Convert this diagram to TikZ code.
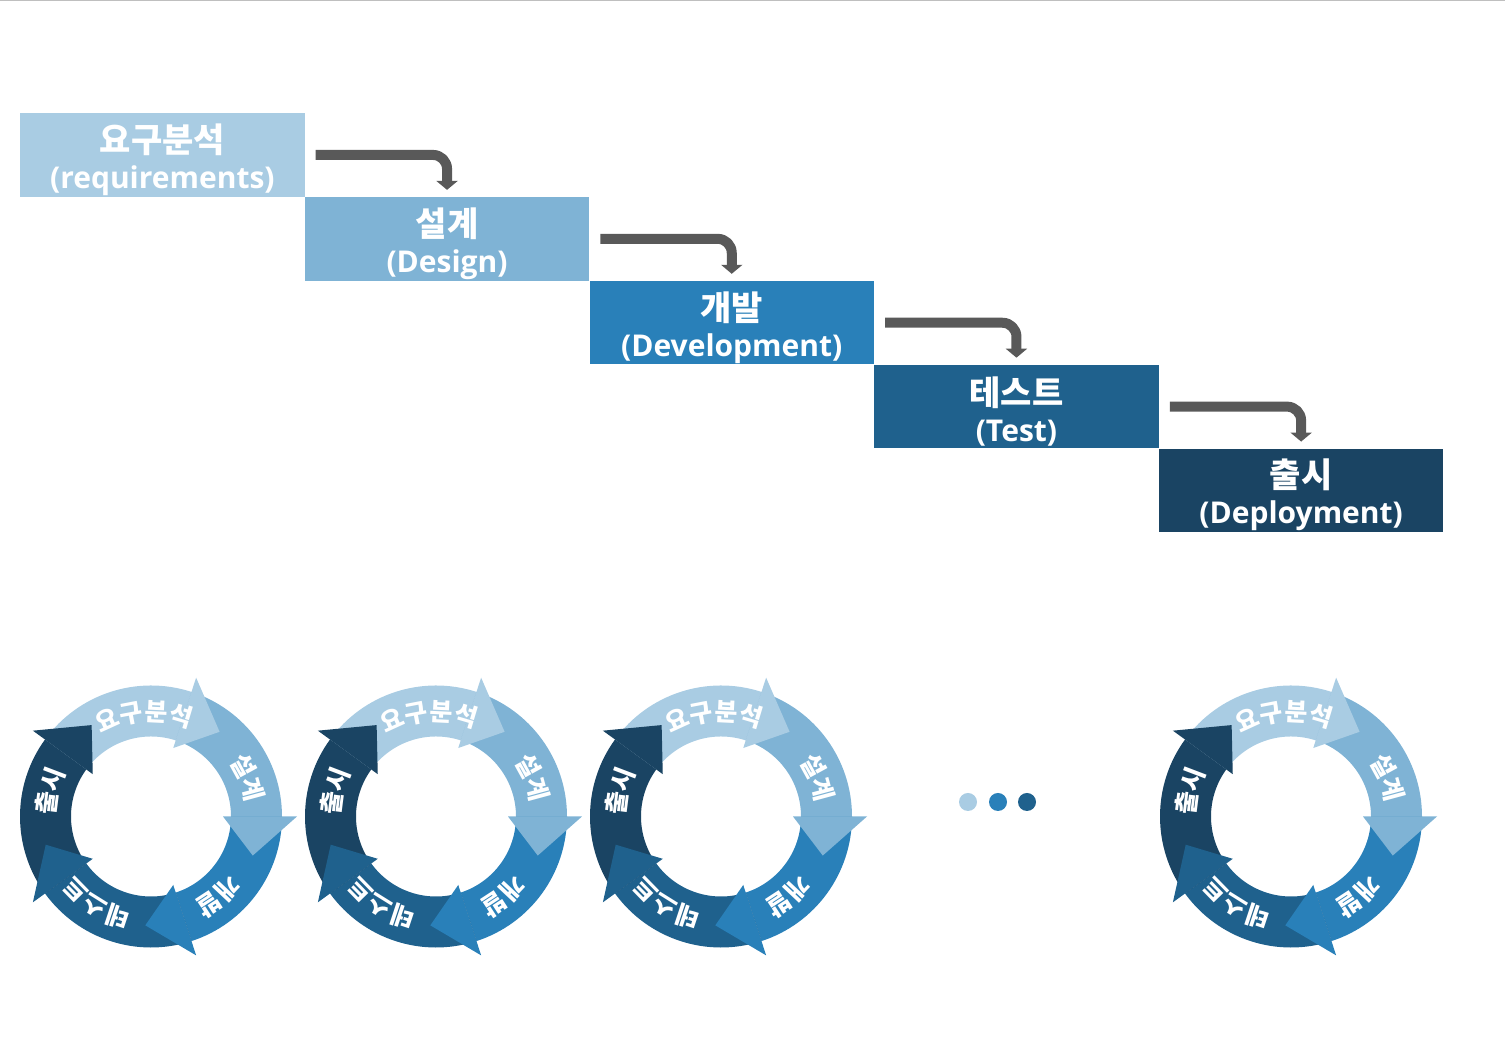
\documentclass[tikz,border=0pt]{standalone}
\usepackage{fontspec}
\setmainfont{Open Sans}
\newfontfamily\kr{Noto Sans CJK KR}
\usetikzlibrary{arrows.meta,positioning,decorations.text}
\definecolor{cReq}{HTML}{A9CCE3}
\definecolor{cDsg}{HTML}{7FB3D5}
\definecolor{cDev}{HTML}{2980B9}
\definecolor{cTst}{HTML}{1F618D}
\definecolor{cDep}{HTML}{1A4463}
\definecolor{cArr}{HTML}{595959}
\newcommand{\cyctext}{\kr\bfseries\fontsize{25}{25}\selectfont}
\newcommand{\krhead}[1]{{\kr\fontsize{34}{36}\selectfont\rule{0pt}{38pt}#1}}

\begin{document}
\begin{tikzpicture}[line join=round,x=1pt,y=1pt,
  stage/.style={minimum width=284.3pt,minimum height=83.5pt,inner sep=0pt,text=white,align=center,font=\bfseries\fontsize{30}{36}\selectfont},
  stair/.style={cArr,line width=10pt,rounded corners=14pt,-{Triangle[width=21pt,length=9pt]}},
  cyclabel/.style={decorate,decoration={text along path,text={|\cyctext|#1},text align=center,text color=white}}]

\useasboundingbox (0,0) rectangle (1505,1054);
\draw [line width=1.5pt,black!25] (0,1053.5) -- (1505,1053.5);
%% waterfall
\node [stage,fill=cReq,anchor=north west] (req) at (20,941) {\krhead{요구분석}\\(requirements)};
\node [stage,fill=cDsg,below right=0pt and 0pt of req] (dsg) {\krhead{설계}\\(Design)};
\node [stage,fill=cDev,below right=0pt and 0pt of dsg] (dev) {\krhead{개발}\\(Development)};
\node [stage,fill=cTst,below right=0pt and 0pt of dev] (tst) {\krhead{테스트}\\(Test)};
\node [stage,fill=cDep,below right=0pt and 0pt of tst] (dep) {\krhead{출시}\\(Deployment)};
%%
\draw [stair] ([xshift=11pt]req.east) -| ([yshift=7pt]dsg.north);
\draw [stair] ([xshift=11pt]dsg.east) -| ([yshift=7pt]dev.north);
\draw [stair] ([xshift=11pt]dev.east) -| ([yshift=7pt]tst.north);
\draw [stair] ([xshift=11pt]tst.east) -| ([yshift=7pt]dep.north);
%% cycles
\foreach \cx in {151,436,721,1291}{
\begin{scope}[shift={(\cx,237.5)}]
\foreach \b/\c in {72/cReq,0/cDsg,-72/cDev,-144/cTst,144/cDep}
  \fill [\c] (\b+72:131) arc [start angle=\b+72,end angle=\b,radius=131] -- (\b:80) arc [start angle=\b,end angle=\b+72,radius=80] -- cycle;
\foreach \b/\c in {72/cReq,0/cDsg,-72/cDev,-144/cTst,144/cDep}
  \fill [\c] (\b:72) -- (\b:146) -- (\b-21:109) -- cycle;
\path [cyclabel={요구분석}] (139:96) arc [start angle=139,end angle=49,radius=96];
\path [cyclabel={설계}] (67:96) arc [start angle=67,end angle=-23,radius=96];
\path [cyclabel={개발}] (-5:96) arc [start angle=-5,end angle=-95,radius=96];
\path [cyclabel={테스트}] (-77:96) arc [start angle=-77,end angle=-167,radius=96];
\path [cyclabel={출시}] (211:96) arc [start angle=211,end angle=121,radius=96];
\end{scope}}
%% dots
\fill [cReq] (968,252) circle (9);
\fill [cDev] (998,252) circle (9);
\fill [cTst] (1027,252) circle (9);
\end{tikzpicture}
\end{document}
